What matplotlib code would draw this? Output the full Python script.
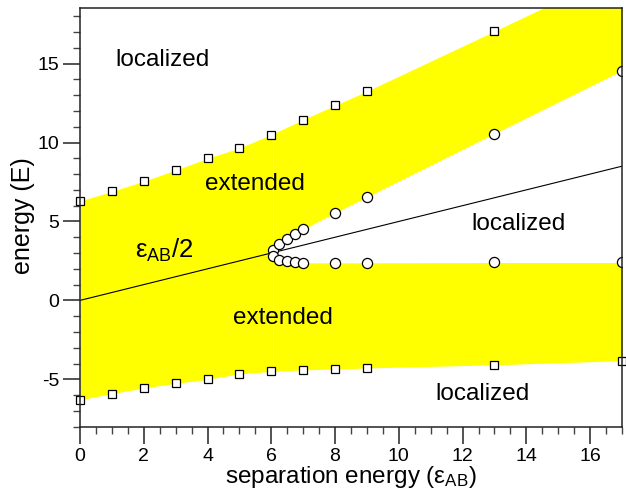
import numpy as np
import matplotlib as mpl
mpl.use('Agg')
import matplotlib.pyplot as plt

plt.rcParams['font.family'] = ['Liberation Sans', 'DejaVu Sans']
plt.rcParams['mathtext.fontset'] = 'custom'
plt.rcParams['mathtext.rm'] = 'Liberation Sans'
plt.rcParams['mathtext.it'] = 'Liberation Sans:italic'
plt.rcParams['axes.unicode_minus'] = False

# upper band edge (squares); the last point lies above the visible range
upper_sq_x = [0, 1, 2, 3, 4, 5, 6, 7, 8, 9, 13, 17]
upper_sq_y = [6.3, 6.9, 7.55, 8.25, 9.0, 9.65, 10.5, 11.45, 12.35, 13.25, 17.05, 20.9]

# lower band edge (squares)
lower_sq_x = [0, 1, 2, 3, 4, 5, 6, 7, 8, 9, 13, 17]
lower_sq_y = [-6.3, -5.9, -5.55, -5.25, -5.0, -4.65, -4.5, -4.4, -4.35, -4.28, -4.08, -3.82]

# inner band edges (circles)
circ_x = [6.05, 6.25, 6.5, 6.75, 7, 8, 9, 13, 17]
circ_up_y = [3.2, 3.6, 3.9, 4.2, 4.5, 5.55, 6.55, 10.57, 14.56]
circ_lo_y = [2.8, 2.58, 2.48, 2.42, 2.38, 2.38, 2.38, 2.4, 2.4]

# eps_AB / 2 line
half_x = [0, 17]
half_y = [0, 8.5]

yellow = '#ffff00'

fig = plt.figure(figsize=(6.26, 4.93), dpi=100)
ax = fig.add_axes([80/626, 1-426.7/493, 542/626, 418.4/493])

# left part of the band: from lower squares up to upper squares
x1 = np.union1d([x for x in upper_sq_x if x <= circ_x[0]], [circ_x[0]])
ax.fill_between(x1, np.interp(x1, lower_sq_x, lower_sq_y),
                np.interp(x1, upper_sq_x, upper_sq_y), color=yellow, lw=0, zorder=1)

# upper extended band
x2 = np.union1d(circ_x, [x for x in upper_sq_x if x >= circ_x[0]])
ax.fill_between(x2, np.interp(x2, circ_x, circ_up_y),
                np.interp(x2, upper_sq_x, upper_sq_y), color=yellow, lw=0, zorder=1)

# lower extended band
x3 = np.union1d(circ_x, [x for x in lower_sq_x if x >= circ_x[0]])
ax.fill_between(x3, np.interp(x3, lower_sq_x, lower_sq_y),
                np.interp(x3, circ_x, circ_lo_y), color=yellow, lw=0, zorder=1)

ax.plot(half_x, half_y, color='black', lw=0.8, zorder=2)

ymax = 18.5
vis = [i for i, v in enumerate(upper_sq_y) if v <= ymax]
sq_kw = dict(ls='none', marker='s', ms=6.3, mfc='white', mec='black', mew=0.9, zorder=4, clip_on=False)
ax.plot([upper_sq_x[i] for i in vis], [upper_sq_y[i] for i in vis], **sq_kw)
ax.plot(lower_sq_x, lower_sq_y, **sq_kw)

ci_kw = dict(ls='none', marker='o', ms=7.3, mfc='white', mec='black', mew=0.9, zorder=4)
ax.plot(circ_x, circ_up_y, **ci_kw)
ax.plot(circ_x, circ_lo_y, **ci_kw)

fs = 17.5
ax.text(1.1, 14.83, 'localized', fontsize=fs, ha='left', va='baseline')
ax.text(3.92, 7.0, 'extended', fontsize=fs, ha='left', va='baseline')
ax.text(12.29, 4.43, 'localized', fontsize=fs, ha='left', va='baseline')
ax.text(4.8, -1.52, 'extended', fontsize=fs, ha='left', va='baseline')
ax.text(11.16, -6.28, 'localized', fontsize=fs, ha='left', va='baseline')
ax.text(1.72, 2.72, r'$\mathregular{ε_{AB}/2}$', fontsize=18.5, ha='left', va='baseline')

ax.set_xlim(0, 17)
ax.set_ylim(-8, ymax)
ax.set_xticks(np.arange(0, 17, 2))
ax.set_xticks(np.arange(0, 17.01, 0.5), minor=True)
ax.set_yticks([-5, 0, 5, 10, 15])
ax.set_yticks(np.arange(-8, 18.01, 1), minor=True)

ax.tick_params(which='both', direction='out', colors='#444444', labelcolor='black',
               labelsize=14)
ax.tick_params(which='major', length=12, width=1.3, pad=3)
ax.tick_params(which='minor', length=5, width=1.0)
for s in ax.spines.values():
    s.set_linewidth(1.1)
    s.set_color('#222222')
    s.set_zorder(5)

ax.set_xlabel(r'separation energy ($\mathregular{ε_{AB}}$)', fontsize=17.5, va='baseline')
ax.xaxis.set_label_coords(0.5, -0.1346)
ax.set_ylabel('energy (E)', fontsize=18, va='center')
ax.yaxis.set_label_coords(-0.105, 0.505)

fig.savefig('out.png', dpi=100)
